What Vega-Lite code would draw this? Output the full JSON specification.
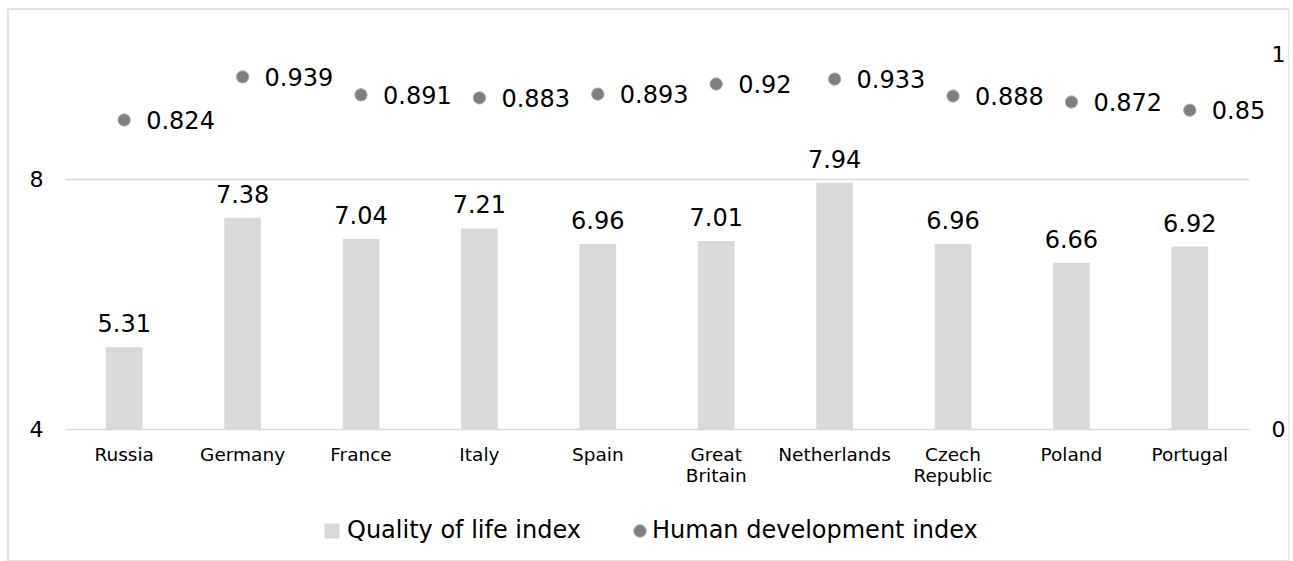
{
  "$schema": "https://vega.github.io/schema/vega-lite/v6.json",
  "width": 1281,
  "height": 552,
  "autosize": {"type": "none"},
  "padding": {"left": 8, "top": 9, "right": 0, "bottom": 0},
  "config": {
    "font": "DejaVu Sans",
    "view": {"stroke": "#d9d9d9", "strokeWidth": 1.5}
  },
  "data": {
    "values": [
      {"country": "Russia", "qli": 5.31, "hdi": 0.824},
      {"country": "Germany", "qli": 7.38, "hdi": 0.939},
      {"country": "France", "qli": 7.04, "hdi": 0.891},
      {"country": "Italy", "qli": 7.21, "hdi": 0.883},
      {"country": "Spain", "qli": 6.96, "hdi": 0.893},
      {"country": "Great Britain", "qli": 7.01, "hdi": 0.92},
      {"country": "Netherlands", "qli": 7.94, "hdi": 0.933},
      {"country": "Czech Republic", "qli": 6.96, "hdi": 0.888},
      {"country": "Poland", "qli": 6.66, "hdi": 0.872},
      {"country": "Portugal", "qli": 6.92, "hdi": 0.85}
    ]
  },
  "encoding": {
    "x": {
      "field": "country",
      "type": "nominal",
      "sort": null,
      "scale": {"range": [57, 1241], "paddingInner": 0.69, "paddingOuter": 0.345},
      "axis": {
        "title": null,
        "domain": false,
        "ticks": false,
        "grid": false,
        "labelAngle": 0,
        "labelFontSize": 18.5,
        "labelPadding": 16,
        "labelLineHeight": 21,
        "labelColor": "#000000",
        "labelExpr": "split(datum.label, ' ')",
        "offset": -132
      }
    }
  },
  "layer": [
    {
      "layer": [
        {
          "mark": {"type": "bar", "color": "#d9d9d9"},
          "encoding": {
            "y": {
              "field": "qli",
              "type": "quantitative",
              "scale": {"domain": [4, 10], "range": [420, 45], "nice": false, "zero": false},
              "axis": {
                "title": null,
                "values": [4, 8],
                "format": "d",
                "domain": false,
                "ticks": false,
                "grid": true,
                "gridColor": "#d9d9d9",
                "gridWidth": 1.5,
                "labelFontSize": 22,
                "labelPadding": 22,
                "labelFlush": false,
                "labelColor": "#000000",
                "offset": -57
              }
            },
            "y2": {"datum": 4},
            "color": {
              "datum": "Quality of life index",
              "scale": {"range": ["#d9d9d9"]},
              "legend": {
                "orient": "none",
                "legendX": 312,
                "legendY": 510,
                "title": null,
                "padding": 0,
                "symbolType": "square",
                "symbolSize": 225,
                "symbolStrokeWidth": 0,
                "labelFontSize": 24,
                "labelOffset": 3,
                "labelLimit": 0,
                "labelColor": "#000000"
              }
            }
          }
        },
        {
          "mark": {"type": "text", "baseline": "alphabetic", "dy": -15, "fontSize": 24, "color": "#000000"},
          "encoding": {
            "y": {"field": "qli", "type": "quantitative"},
            "text": {"field": "qli", "type": "nominal"}
          }
        }
      ]
    },
    {
      "layer": [
        {
          "mark": {"type": "point", "filled": true, "size": 150, "opacity": 1, "stroke": "#a6a6a6", "strokeWidth": 1},
          "encoding": {
            "y": {
              "field": "hdi",
              "type": "quantitative",
              "scale": {"domain": [0, 1], "range": [420, 45], "nice": false},
              "axis": {
                "orient": "right",
                "title": null,
                "values": [0, 1],
                "format": "d",
                "domain": false,
                "ticks": false,
                "grid": false,
                "labelFontSize": 22,
                "labelPadding": 22,
                "labelFlush": false,
                "labelColor": "#000000",
                "offset": -40
              }
            },
            "color": {
              "datum": "Human development index",
              "scale": {"range": ["#7f7f7f"]},
              "legend": {
                "orient": "none",
                "legendX": 620,
                "legendY": 510,
                "title": null,
                "padding": 0,
                "symbolType": "circle",
                "symbolSize": 154,
                "symbolStrokeColor": "#a6a6a6",
                "symbolStrokeWidth": 1,
                "labelFontSize": 24,
                "labelOffset": 0,
                "labelLimit": 0,
                "labelColor": "#000000"
              }
            }
          }
        },
        {
          "mark": {"type": "text", "align": "left", "baseline": "middle", "dx": 22, "dy": 2, "fontSize": 24, "color": "#000000"},
          "encoding": {
            "y": {"field": "hdi", "type": "quantitative"},
            "text": {"field": "hdi", "type": "nominal"}
          }
        }
      ]
    }
  ],
  "resolve": {"scale": {"y": "independent", "color": "independent"}}
}
